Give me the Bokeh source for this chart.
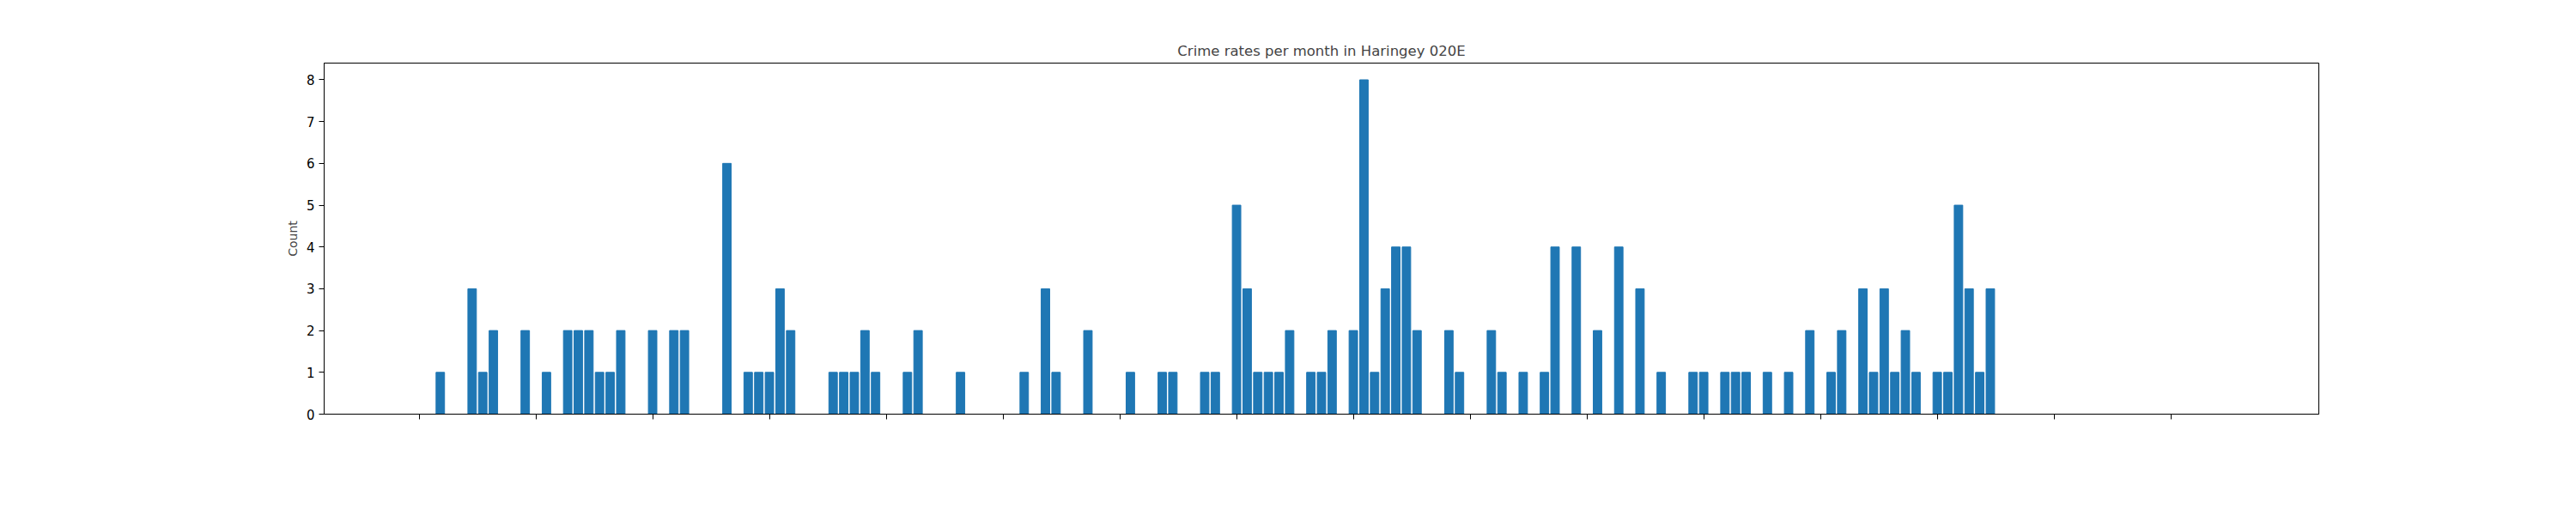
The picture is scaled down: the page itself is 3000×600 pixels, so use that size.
import pandas as pd
from math import pi
from bokeh.plotting import figure
from bokeh.models import FixedTicker, Range1d, Label
from bokeh.embed import file_html
from bokeh.resources import INLINE

# monthly categories, one per month from 2010-12
months = [str(m) for m in pd.period_range("2010-12", periods=171, freq="M")]

counts = [
    0, 0, 1, 0, 0, 3, 1, 2, 0, 0,
    2, 0, 1, 0, 2, 2, 2, 1, 1, 2,
    0, 0, 2, 0, 2, 2, 0, 0, 0, 6,
    0, 1, 1, 1, 3, 2, 0, 0, 0, 1,
    1, 1, 2, 1, 0, 0, 1, 2, 0, 0,
    0, 1, 0, 0, 0, 0, 0, 1, 0, 3,
    1, 0, 0, 2, 0, 0, 0, 1, 0, 0,
    1, 1, 0, 0, 1, 1, 0, 5, 3, 1,
    1, 1, 2, 0, 1, 1, 2, 0, 2, 8,
    1, 3, 4, 4, 2, 0, 0, 2, 1, 0,
    0, 2, 1, 0, 1, 0, 1, 4, 0, 4,
    0, 2, 0, 4, 0, 3, 0, 1, 0, 0,
    1, 1, 0, 1, 1, 1, 0, 1, 0, 1,
    0, 2, 0, 1, 2, 0, 3, 1, 3, 1,
    2, 1, 0, 1, 1, 5, 3, 1, 3, 0,
    0, 0, 0, 0, 0, 0, 0, 0, 0, 0,
    0, 0, 0, 0, 0, 0, 0, 0, 0, 0,
    0,
]

# every 11th month gets a label
tick_idx = list(range(0, len(months), 11))

xs = list(range(len(months)))
pad = 0.05 * (len(months) - 1 + 0.8)

p = figure(width=2984, height=584, output_backend="svg", toolbar_location=None,
           title="Crime rates per month in Haringey 020E",
           x_range=Range1d(-0.4 - pad, len(months) - 1 + 0.4 + pad),
           y_range=Range1d(0, 8.4),
           min_border_left=377, min_border_right=284,
           min_border_top=73, min_border_bottom=102)

p.vbar(x=xs, top=counts, width=0.8, color="#1f77b4")

p.title.align = "center"
p.title.text_font = "DejaVu Sans"
p.title.text_font_size = "16.5px"
p.title.text_font_style = "normal"

p.xgrid.visible = False
p.ygrid.visible = False
p.outline_line_color = "black"
p.outline_line_alpha = 1

p.xaxis.ticker = FixedTicker(ticks=tick_idx)
p.xaxis.major_label_text_font_size = "0px"
p.xaxis.major_label_text_alpha = 0

# rotated tick labels centred under their ticks, as matplotlib does
for i in tick_idx:
    p.add_layout(Label(x=i, y=-0.95, text=months[i], angle=pi / 4,
                       text_align="center", text_baseline="middle",
                       text_font="DejaVu Sans", text_font_size="19px",
                       text_color="black"))
p.add_layout(Label(x=(len(months) - 1) / 2, y=-1.9, text="Month",
                   text_align="center", text_baseline="middle",
                   text_font="DejaVu Sans", text_font_size="14px",
                   text_color="black"))

p.yaxis.ticker = FixedTicker(ticks=list(range(9)))
p.yaxis.axis_label = "Count"
p.yaxis.major_label_text_font_size = "15px"

for ax in (p.xaxis, p.yaxis):
    ax.minor_tick_line_color = None
    ax.major_tick_out = 6
    ax.major_tick_in = 0
    ax.axis_line_color = "black"
    ax.major_tick_line_color = "black"
    ax.major_label_text_color = "black"
    ax.major_label_text_font = "DejaVu Sans"
    ax.axis_label_text_font = "DejaVu Sans"
    ax.axis_label_text_font_size = "14px"
    ax.axis_label_text_font_style = "normal"

open("out.html", "w").write(file_html(p, INLINE))
